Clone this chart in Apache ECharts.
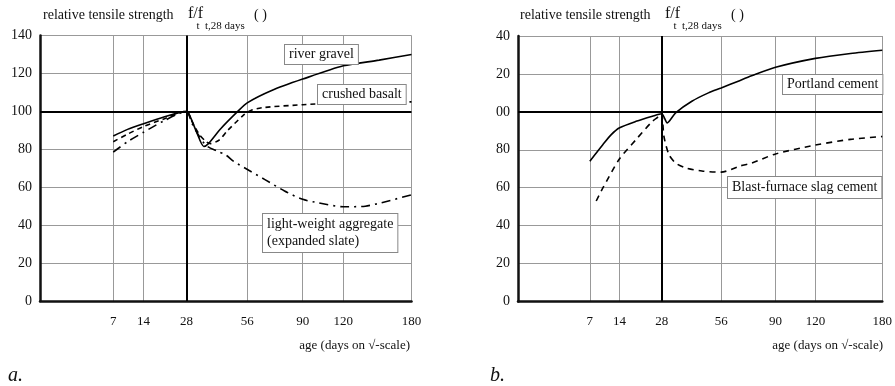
<!DOCTYPE html>
<html>
<head>
<meta charset="utf-8">
<script src="https://cdn.jsdelivr.net/npm/echarts@6/dist/echarts.min.js"></script>
<style>
  html, body { margin: 0; padding: 0; background: #fff; }
  #main { width: 895px; height: 386px; }
</style>
</head>
<body>
<div id="main"></div>
<script>
// age axis is drawn on a square-root scale, ticks in days
var tickDays = [7, 14, 28, 56, 90, 120, 180];
var leftYLabels = ['0', '20', '40', '60', '80', '100', '120', '140'];
var rightYLabels = ['0', '20', '40', '60', '80', '00', '20', '40'];

// a. aggregates
var gravelDays = [7, 10, 14, 20, 28, 29.5, 32, 35, 37, 42.7, 51, 56, 70, 90, 120, 150, 180];
var gravelVals = [87, 90.5, 93.5, 97, 100, 97, 89, 81.5, 83, 91, 100, 104.5, 111, 117, 124, 127, 130];

var basaltDays = [7, 10, 14, 20, 28, 30, 33, 36, 38, 42, 46, 54, 58, 65, 90, 120, 180];
var basaltVals = [84, 88, 92, 96, 100, 95, 88, 84, 83, 85, 90, 98, 100.5, 102, 103.5, 104.5, 105];

var slateDays = [7, 10, 14, 20, 28, 30, 33, 36, 41, 45, 49, 58, 66, 78, 90, 101, 120, 138, 152, 180];
var slateVals = [78.5, 84, 89, 95, 100, 94, 87, 82, 79, 77, 73.6, 68.3, 64, 58, 53.6, 51.8, 49.7, 50, 51.8, 56];

// b. cements
var portlandDays = [7, 9.8, 11.8, 14, 18.9, 24.5, 28, 30.2, 33.7, 41, 49.2, 56, 65.8, 74, 90, 120, 150, 180];
var portlandVals = [74, 82.8, 88, 91.6, 95, 97.7, 99, 94.2, 99.5, 105.6, 110, 112.6, 116.2, 119, 123.5, 128.2, 130.8, 132.5];

var slagDays = [8.3, 9.8, 13.9, 18.9, 24.5, 27, 28, 28.9, 30.9, 33.7, 38, 45.9, 56, 67, 74, 90, 120, 150, 180];
var slagVals = [53, 60, 75, 85.4, 95, 97.7, 99, 87, 77.5, 73, 70.5, 68.8, 68.2, 71.5, 73, 77.8, 82.5, 85.5, 87];

var serif = '"Liberation Serif", "DejaVu Serif", serif';

function pts(days, vals) {
  return days.map(function (d, i) { return [Math.sqrt(d), vals[i]]; });
}

function xAxisFor(gi) {
  var ticks = tickDays.map(function (d) { return Math.sqrt(d); });
  return {
    type: 'value', gridIndex: gi, min: 0, max: Math.sqrt(180),
    axisLine: { show: true, onZero: false, lineStyle: { color: '#111', width: 2.5 } },
    axisTick: { show: false, customValues: ticks },
    axisLabel: {
      customValues: ticks, margin: 14,
      color: '#111', fontSize: 13, fontFamily: serif,
      formatter: function (v) { return String(Math.round(v * v)); }
    },
    splitLine: { show: true, lineStyle: { color: '#999', width: 1 } }
  };
}

function yAxisFor(gi, labels) {
  return {
    type: 'value', gridIndex: gi, min: 0, max: 140, interval: 20,
    axisLine: { show: true, lineStyle: { color: '#111', width: 2.5 } },
    axisTick: { show: false },
    axisLabel: {
      margin: 8, color: '#111', fontSize: 14, fontFamily: serif,
      formatter: function (v) { return labels[Math.round(v / 20)]; }
    },
    splitLine: { show: true, lineStyle: { color: '#999', width: 1 } }
  };
}

function curve(gi, data, dash, refLines) {
  var s = {
    type: 'line', xAxisIndex: gi, yAxisIndex: gi, data: data,
    showSymbol: false, smooth: 0.25, silent: true,
    lineStyle: { color: '#000', width: 1.6, type: dash }
  };
  if (refLines) {
    s.markLine = {
      silent: true, symbol: 'none', label: { show: false },
      lineStyle: { color: '#000', width: 2, type: 'solid' },
      data: [{ yAxis: 100 }, { xAxis: Math.sqrt(28) }]
    };
  }
  return s;
}

function boxText(x, y, text, pad) {
  return {
    type: 'text', x: x, y: y, z: 20,
    style: {
      text: text, font: '14px ' + serif, fill: '#111', lineHeight: 17,
      backgroundColor: '#fff', borderColor: '#888', borderWidth: 1,
      padding: pad || [1, 4], align: 'left', verticalAlign: 'top'
    }
  };
}

function plainText(x, y, text, size, align, extra) {
  return {
    type: 'text', x: x, y: y,
    style: {
      text: text, font: (extra || '') + size + 'px ' + serif, fill: '#111',
      align: align || 'left', verticalAlign: 'middle'
    }
  };
}

function titleParts(x0) {
  return [
    plainText(x0, 15, 'relative tensile strength', 14),
    plainText(x0 + 145, 14, 'f/f', 16),
    plainText(x0 + 153.5, 26, 't', 11),
    plainText(x0 + 162, 26, 't,28 days', 11),
    plainText(x0 + 211, 15, '( )', 14)
  ];
}

var chart = echarts.init(document.getElementById('main'));
chart.setOption({
  animation: false,
  backgroundColor: '#fff',
  grid: [
    { left: 40, top: 35.5, width: 371.5, height: 265.5 },
    { left: 518, top: 36, width: 367.5, height: 265.5 }
  ],
  xAxis: [xAxisFor(0), xAxisFor(1)],
  yAxis: [yAxisFor(0, leftYLabels), yAxisFor(1, rightYLabels)],
  series: [
    curve(0, pts(gravelDays, gravelVals), 'solid', true),
    curve(0, pts(basaltDays, basaltVals), [5, 4]),
    curve(0, pts(slateDays, slateVals), [9, 5, 2, 5]),
    curve(1, pts(portlandDays, portlandVals), 'solid', true),
    curve(1, pts(slagDays, slagVals), [6, 5])
  ],
  graphic: [].concat(
    titleParts(43),
    titleParts(520),
    [
      boxText(285, 45, 'river gravel'),
      boxText(318, 85, 'crushed basalt'),
      boxText(263, 214, 'light-weight aggregate\n(expanded slate)', [2, 4]),
      boxText(783, 75, 'Portland cement'),
      boxText(728, 177, 'Blast-furnace slag cement', [2, 4]),
      plainText(410, 346, 'age (days on \u221a-scale)', 13, 'right'),
      plainText(883, 346, 'age (days on \u221a-scale)', 13, 'right'),
      plainText(8, 376, 'a.', 20, 'left', 'italic '),
      plainText(490, 376, 'b.', 20, 'left', 'italic ')
    ]
  )
});
</script>
</body>
</html>
